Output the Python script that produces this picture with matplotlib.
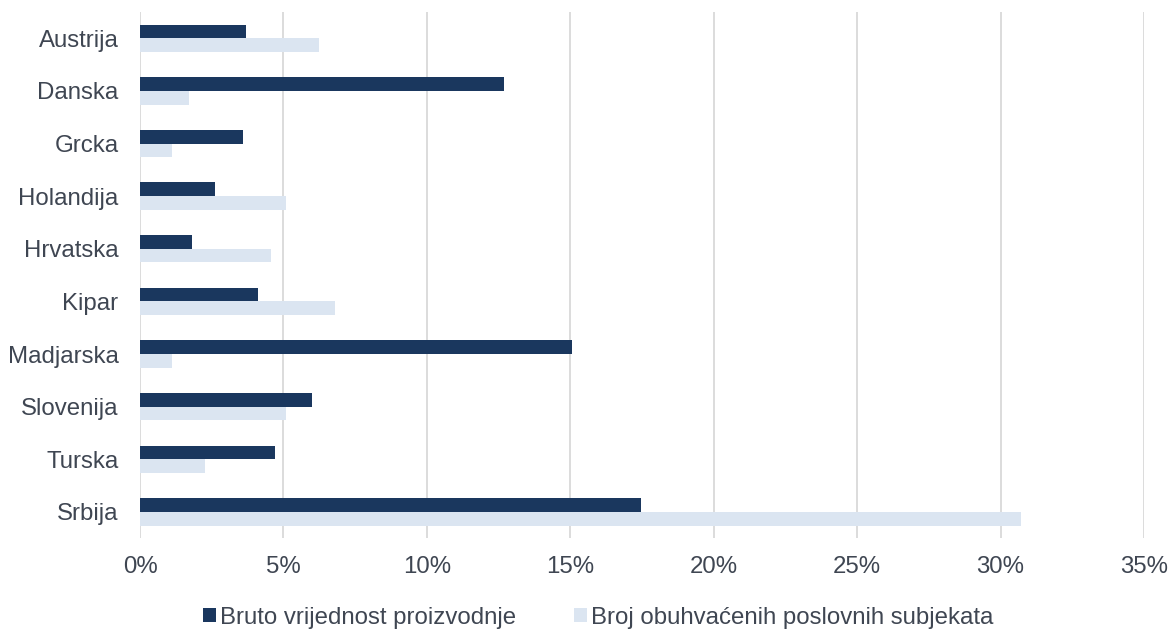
import numpy as np
import matplotlib.pyplot as plt
from matplotlib.ticker import FuncFormatter

plt.rcParams['font.family'] = ['Liberation Sans', 'DejaVu Sans']

# data (percent)
countries = ['Austrija', 'Danska', 'Grcka', 'Holandija', 'Hrvatska',
             'Kipar', 'Madjarska', 'Slovenija', 'Turska', 'Srbija']
bruto = [3.7, 12.7, 3.6, 2.6, 1.8, 4.1, 15.05, 6.0, 4.7, 17.45]
broj = [6.25, 1.7, 1.1, 5.1, 4.55, 6.8, 1.1, 5.1, 2.25, 30.7]

labels = ['Bruto vrijednost proizvodnje', 'Broj obuhvaćenih poslovnih subjekata']

dark = '#1a375e'
light = '#dbe5f1'
txt = '#3f4652'

fig = plt.figure(figsize=(11.68, 6.31), dpi=100)
ax = fig.add_axes([0.1199, 0.147, 0.8596, 0.834])

y = np.arange(len(countries))
h = 0.26
ax.barh(y - h / 2, bruto, height=h, color=dark, label=labels[0], zorder=3)
ax.barh(y + h / 2, broj, height=h, color=light, label=labels[1], zorder=3)

ax.set_xlim(0, 35)
ax.set_ylim(len(countries) - 0.5, -0.5)
ax.set_yticks(y)
ax.set_yticklabels(countries)
ax.set_xticks(np.arange(0, 36, 5))
ax.xaxis.set_major_formatter(FuncFormatter(lambda v, p: '%d%%' % v))
ax.grid(axis='x', color='#d9d9d9', linewidth=1.3, zorder=0)
ax.tick_params(length=0, labelsize=17.3, colors=txt)
ax.tick_params(axis='x', pad=13)
ax.tick_params(axis='y', pad=15.5)
for s in ax.spines.values():
    s.set_visible(False)

leg = fig.legend(loc='center', bbox_to_anchor=(0.512, 0.021), ncol=2,
                 frameon=False, fontsize=17.3, handlelength=0.55, handleheight=0.55,
                 handletextpad=0.15, columnspacing=2.4, borderpad=0.1)
for t in leg.get_texts():
    t.set_color(txt)

fig.savefig('out.png', dpi=100)
